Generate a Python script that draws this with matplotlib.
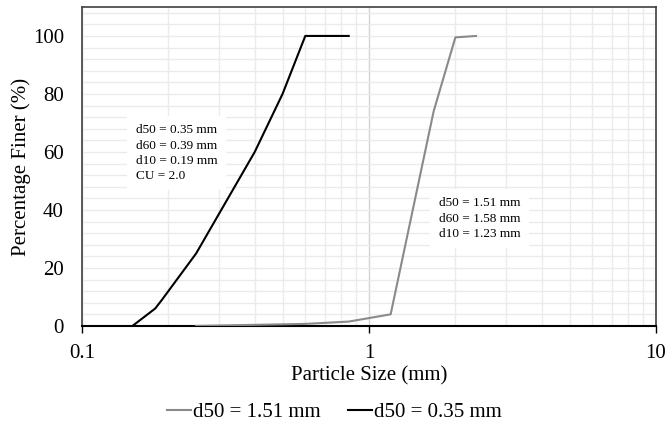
import matplotlib
matplotlib.use("Agg")
import matplotlib.pyplot as plt
from matplotlib.ticker import LogLocator, MultipleLocator, FixedLocator, NullFormatter

# particle size distribution data
size_fine = [0.15, 0.18, 0.19, 0.25, 0.40, 0.50, 0.60, 0.85]
finer_fine = [0, 6, 9, 25, 60, 80, 100, 100]

size_coarse = [0.25, 0.60, 0.85, 1.19, 1.68, 2.00, 2.36]
finer_coarse = [0, 0.7, 1.5, 4, 74, 99.5, 100]

label_coarse = "d50 = 1.51 mm"
label_fine = "d50 = 0.35 mm"
note_fine = "d50 = 0.35 mm\nd60 = 0.39 mm\nd10 = 0.19 mm\nCU = 2.0"
note_coarse = "d50 = 1.51 mm\nd60 = 1.58 mm\nd10 = 1.23 mm"

plt.rcParams["font.family"] = ["Liberation Serif", "DejaVu Serif"]

fig = plt.figure(figsize=(6.66, 4.34), dpi=100)
ax = fig.add_axes([0.123, 0.249, 0.862, 0.735])

ax.plot(size_coarse, finer_coarse, color="#8a8a8a", lw=1.5, label=label_coarse, zorder=3)
ax.plot(size_fine, finer_fine, color="black", lw=1.5, label=label_fine, zorder=3)

ax.set_xscale("log")
ax.set_xlim(0.1, 10)
ax.set_ylim(0, 110)

ax.xaxis.set_major_locator(FixedLocator([0.1, 1, 10]))
ax.set_xticklabels(["0.1", "1", "10"])
ax.xaxis.set_minor_locator(LogLocator(base=10, subs=range(2, 10)))
ax.xaxis.set_minor_formatter(NullFormatter())
ax.yaxis.set_major_locator(MultipleLocator(20))
ax.yaxis.set_minor_locator(MultipleLocator(4))

ax.grid(which="minor", color="#ebebeb", lw=1.0, zorder=0)
ax.grid(which="major", axis="x", color="#d4d4d4", lw=1.0, zorder=0)
ax.grid(which="major", axis="y", color="#ebebeb", lw=1.0, zorder=0)

ax.tick_params(axis="x", which="major", length=5, width=1, labelsize=15, pad=8, direction="out")
ax.tick_params(axis="x", which="minor", length=0)
ax.tick_params(axis="y", which="both", length=0, labelsize=15, pad=13)

for s in ax.spines.values():
    s.set_color("#404040")
    s.set_linewidth(1.2)
ax.spines["bottom"].set_color("black")
ax.spines["bottom"].set_linewidth(1.5)

ax.set_xlabel("Particle Size (mm)", fontsize=15, labelpad=2)
ax.set_ylabel("Percentage Finer (%)", fontsize=15, labelpad=1)

box = dict(facecolor="white", edgecolor="none", pad=6)
ax.text(0.154, 69.5, note_fine, fontsize=9.5, va="top", ha="left", linespacing=1.35, bbox=box, zorder=4)
ax.text(1.75, 44.3, note_coarse, fontsize=9.5, va="top", ha="left", linespacing=1.35, bbox=box, zorder=4)

ax.legend(loc="center", bbox_to_anchor=(0.44, -0.27), ncol=2, frameon=False,
          fontsize=15, handlelength=1.15, handletextpad=0.1, columnspacing=1.3)

fig.savefig("out.png", dpi=100)
